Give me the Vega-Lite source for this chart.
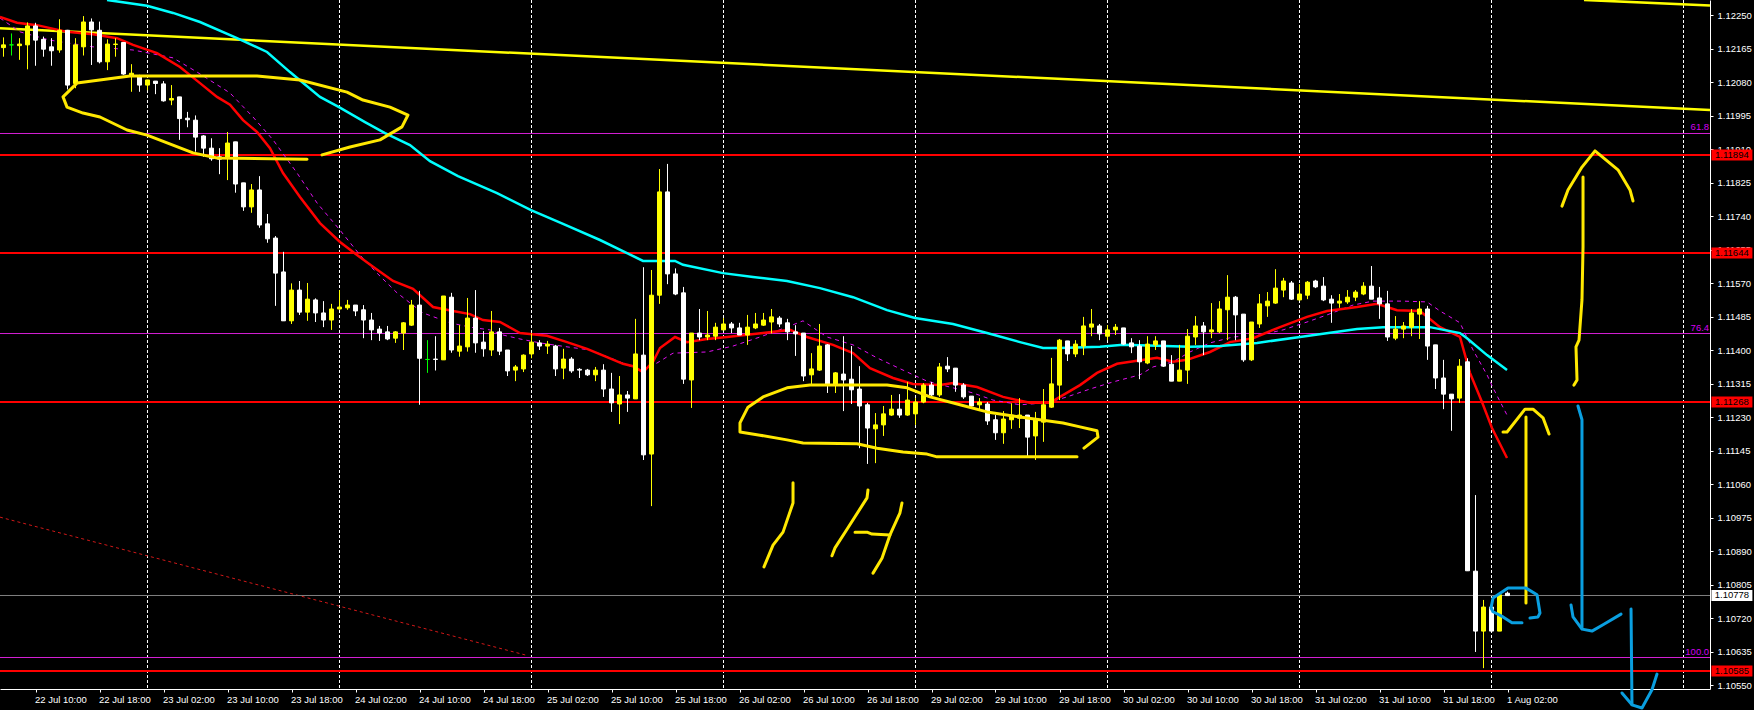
{
"$schema":"https://vega.github.io/schema/vega-lite/v6.json",
"width":1710,"height":689,"padding":{"left":0,"top":0,"right":44,"bottom":21},"autosize":{"type":"none"},"background":"#000000",
"config":{"view":{"stroke":null}},
"datasets":{
"candles":[
{"bar":0,"open":1.12168,"high":1.12194,"low":1.12145,"close":1.12175,"dir":"up"},
{"bar":1,"open":1.12175,"high":1.12204,"low":1.12148,"close":1.12175,"dir":"flat"},
{"bar":2,"open":1.12173,"high":1.12192,"low":1.12137,"close":1.12177,"dir":"up"},
{"bar":3,"open":1.12175,"high":1.12232,"low":1.12113,"close":1.12223,"dir":"up"},
{"bar":4,"open":1.12223,"high":1.12231,"low":1.12122,"close":1.12187,"dir":"down"},
{"bar":5,"open":1.12189,"high":1.12196,"low":1.12145,"close":1.12164,"dir":"down"},
{"bar":6,"open":1.12170,"high":1.12192,"low":1.12122,"close":1.12160,"dir":"down"},
{"bar":7,"open":1.12162,"high":1.12240,"low":1.12155,"close":1.12212,"dir":"up"},
{"bar":8,"open":1.12212,"high":1.12213,"low":1.12062,"close":1.12073,"dir":"down"},
{"bar":9,"open":1.12077,"high":1.12192,"low":1.12065,"close":1.12175,"dir":"up"},
{"bar":10,"open":1.12170,"high":1.12248,"low":1.12148,"close":1.12233,"dir":"up"},
{"bar":11,"open":1.12233,"high":1.12242,"low":1.12124,"close":1.12213,"dir":"down"},
{"bar":12,"open":1.12212,"high":1.12234,"low":1.12128,"close":1.12132,"dir":"down"},
{"bar":13,"open":1.12132,"high":1.12189,"low":1.12111,"close":1.12177,"dir":"up"},
{"bar":14,"open":1.12176,"high":1.12192,"low":1.12145,"close":1.12177,"dir":"up"},
{"bar":15,"open":1.12181,"high":1.12181,"low":1.12099,"close":1.12101,"dir":"down"},
{"bar":16,"open":1.12096,"high":1.12126,"low":1.12056,"close":1.12103,"dir":"up"},
{"bar":17,"open":1.12096,"high":1.12099,"low":1.12056,"close":1.12073,"dir":"down"},
{"bar":18,"open":1.12073,"high":1.12086,"low":1.12060,"close":1.12086,"dir":"up"},
{"bar":19,"open":1.12083,"high":1.12083,"low":1.12050,"close":1.12077,"dir":"down"},
{"bar":20,"open":1.12076,"high":1.12083,"low":1.12031,"close":1.12033,"dir":"down"},
{"bar":21,"open":1.12035,"high":1.12073,"low":1.12022,"close":1.12039,"dir":"up"},
{"bar":22,"open":1.12043,"high":1.12043,"low":1.11934,"close":1.11988,"dir":"down"},
{"bar":23,"open":1.11989,"high":1.12005,"low":1.11966,"close":1.11985,"dir":"down"},
{"bar":24,"open":1.11984,"high":1.11996,"low":1.11904,"close":1.11941,"dir":"down"},
{"bar":25,"open":1.11944,"high":1.11946,"low":1.11891,"close":1.11913,"dir":"down"},
{"bar":26,"open":1.11913,"high":1.11938,"low":1.11881,"close":1.11886,"dir":"down"},
{"bar":27,"open":1.11891,"high":1.11913,"low":1.11847,"close":1.11885,"dir":"down"},
{"bar":28,"open":1.11890,"high":1.11954,"low":1.11832,"close":1.11926,"dir":"up"},
{"bar":29,"open":1.11929,"high":1.11929,"low":1.11800,"close":1.11822,"dir":"down"},
{"bar":30,"open":1.11825,"high":1.11825,"low":1.11754,"close":1.11764,"dir":"down"},
{"bar":31,"open":1.11764,"high":1.11822,"low":1.11749,"close":1.11807,"dir":"up"},
{"bar":32,"open":1.11807,"high":1.11842,"low":1.11711,"close":1.11718,"dir":"down"},
{"bar":33,"open":1.11721,"high":1.11746,"low":1.11673,"close":1.11683,"dir":"down"},
{"bar":34,"open":1.11685,"high":1.11690,"low":1.11513,"close":1.11596,"dir":"down"},
{"bar":35,"open":1.11599,"high":1.11650,"low":1.11475,"close":1.11475,"dir":"down"},
{"bar":36,"open":1.11475,"high":1.11570,"low":1.11467,"close":1.11553,"dir":"up"},
{"bar":37,"open":1.11553,"high":1.11576,"low":1.11490,"close":1.11497,"dir":"down"},
{"bar":38,"open":1.11497,"high":1.11571,"low":1.11475,"close":1.11530,"dir":"up"},
{"bar":39,"open":1.11528,"high":1.11532,"low":1.11472,"close":1.11495,"dir":"down"},
{"bar":40,"open":1.11495,"high":1.11525,"low":1.11459,"close":1.11477,"dir":"down"},
{"bar":41,"open":1.11477,"high":1.11518,"low":1.11452,"close":1.11505,"dir":"up"},
{"bar":42,"open":1.11505,"high":1.11553,"low":1.11503,"close":1.11510,"dir":"up"},
{"bar":43,"open":1.11508,"high":1.11528,"low":1.11503,"close":1.11515,"dir":"up"},
{"bar":44,"open":1.11515,"high":1.11515,"low":1.11487,"close":1.11500,"dir":"down"},
{"bar":45,"open":1.11503,"high":1.11515,"low":1.11431,"close":1.11477,"dir":"down"},
{"bar":46,"open":1.11477,"high":1.11495,"low":1.11426,"close":1.11452,"dir":"down"},
{"bar":47,"open":1.11454,"high":1.11462,"low":1.11424,"close":1.11444,"dir":"down"},
{"bar":48,"open":1.11447,"high":1.11462,"low":1.11426,"close":1.11429,"dir":"down"},
{"bar":49,"open":1.11431,"high":1.11449,"low":1.11419,"close":1.11447,"dir":"up"},
{"bar":50,"open":1.11444,"high":1.11472,"low":1.11401,"close":1.11470,"dir":"up"},
{"bar":51,"open":1.11464,"high":1.11528,"low":1.11462,"close":1.11515,"dir":"up"},
{"bar":52,"open":1.11515,"high":1.11551,"low":1.11262,"close":1.11380,"dir":"down"},
{"bar":53,"open":1.11377,"high":1.11426,"low":1.11343,"close":1.11377,"dir":"flat"},
{"bar":54,"open":1.11378,"high":1.11436,"low":1.11349,"close":1.11377,"dir":"down"},
{"bar":55,"open":1.11376,"high":1.11538,"low":1.11376,"close":1.11538,"dir":"up"},
{"bar":56,"open":1.11535,"high":1.11546,"low":1.11394,"close":1.11401,"dir":"down"},
{"bar":57,"open":1.11398,"high":1.11464,"low":1.11384,"close":1.11411,"dir":"up"},
{"bar":58,"open":1.11409,"high":1.11533,"low":1.11397,"close":1.11482,"dir":"up"},
{"bar":59,"open":1.11482,"high":1.11553,"low":1.11394,"close":1.11419,"dir":"down"},
{"bar":60,"open":1.11421,"high":1.11449,"low":1.11384,"close":1.11404,"dir":"down"},
{"bar":61,"open":1.11401,"high":1.11500,"low":1.11386,"close":1.11447,"dir":"up"},
{"bar":62,"open":1.11447,"high":1.11457,"low":1.11388,"close":1.11398,"dir":"down"},
{"bar":63,"open":1.11401,"high":1.11401,"low":1.11335,"close":1.11348,"dir":"down"},
{"bar":64,"open":1.11350,"high":1.11363,"low":1.11322,"close":1.11358,"dir":"up"},
{"bar":65,"open":1.11353,"high":1.11390,"low":1.11345,"close":1.11388,"dir":"up"},
{"bar":66,"open":1.11391,"high":1.11443,"low":1.11380,"close":1.11421,"dir":"up"},
{"bar":67,"open":1.11419,"high":1.11426,"low":1.11401,"close":1.11411,"dir":"down"},
{"bar":68,"open":1.11411,"high":1.11424,"low":1.11391,"close":1.11416,"dir":"up"},
{"bar":69,"open":1.11411,"high":1.11414,"low":1.11335,"close":1.11353,"dir":"down"},
{"bar":70,"open":1.11355,"high":1.11404,"low":1.11327,"close":1.11378,"dir":"up"},
{"bar":71,"open":1.11378,"high":1.11383,"low":1.11343,"close":1.11348,"dir":"down"},
{"bar":72,"open":1.11352,"high":1.11355,"low":1.11330,"close":1.11350,"dir":"down"},
{"bar":73,"open":1.11350,"high":1.11353,"low":1.11335,"close":1.11338,"dir":"down"},
{"bar":74,"open":1.11338,"high":1.11358,"low":1.11322,"close":1.11350,"dir":"up"},
{"bar":75,"open":1.11350,"high":1.11365,"low":1.11282,"close":1.11302,"dir":"down"},
{"bar":76,"open":1.11302,"high":1.11343,"low":1.11244,"close":1.11267,"dir":"down"},
{"bar":77,"open":1.11264,"high":1.11335,"low":1.11213,"close":1.11287,"dir":"up"},
{"bar":78,"open":1.11287,"high":1.11297,"low":1.11244,"close":1.11279,"dir":"down"},
{"bar":79,"open":1.11277,"high":1.11480,"low":1.11277,"close":1.11391,"dir":"up"},
{"bar":80,"open":1.11388,"high":1.11611,"low":1.11122,"close":1.11135,"dir":"down"},
{"bar":81,"open":1.11137,"high":1.11604,"low":1.11005,"close":1.11540,"dir":"up"},
{"bar":82,"open":1.11540,"high":1.11860,"low":1.11518,"close":1.11802,"dir":"up"},
{"bar":83,"open":1.11802,"high":1.11873,"low":1.11568,"close":1.11594,"dir":"down"},
{"bar":84,"open":1.11594,"high":1.11608,"low":1.11540,"close":1.11543,"dir":"down"},
{"bar":85,"open":1.11546,"high":1.11561,"low":1.11315,"close":1.11327,"dir":"down"},
{"bar":86,"open":1.11325,"high":1.11444,"low":1.11254,"close":1.11444,"dir":"up"},
{"bar":87,"open":1.11444,"high":1.11505,"low":1.11426,"close":1.11434,"dir":"down"},
{"bar":88,"open":1.11434,"high":1.11500,"low":1.11426,"close":1.11439,"dir":"up"},
{"bar":89,"open":1.11436,"high":1.11470,"low":1.11426,"close":1.11459,"dir":"up"},
{"bar":90,"open":1.11452,"high":1.11482,"low":1.11452,"close":1.11467,"dir":"up"},
{"bar":91,"open":1.11467,"high":1.11472,"low":1.11444,"close":1.11457,"dir":"down"},
{"bar":92,"open":1.11457,"high":1.11470,"low":1.11439,"close":1.11439,"dir":"down"},
{"bar":93,"open":1.11439,"high":1.11490,"low":1.11414,"close":1.11459,"dir":"up"},
{"bar":94,"open":1.11457,"high":1.11495,"low":1.11454,"close":1.11467,"dir":"up"},
{"bar":95,"open":1.11464,"high":1.11495,"low":1.11462,"close":1.11477,"dir":"up"},
{"bar":96,"open":1.11472,"high":1.11505,"low":1.11443,"close":1.11485,"dir":"up"},
{"bar":97,"open":1.11482,"high":1.11487,"low":1.11459,"close":1.11467,"dir":"down"},
{"bar":98,"open":1.11470,"high":1.11480,"low":1.11426,"close":1.11447,"dir":"down"},
{"bar":99,"open":1.11447,"high":1.11464,"low":1.11386,"close":1.11442,"dir":"down"},
{"bar":100,"open":1.11444,"high":1.11444,"low":1.11322,"close":1.11335,"dir":"down"},
{"bar":101,"open":1.11338,"high":1.11393,"low":1.11312,"close":1.11353,"dir":"up"},
{"bar":102,"open":1.11350,"high":1.11467,"low":1.11348,"close":1.11411,"dir":"up"},
{"bar":103,"open":1.11414,"high":1.11416,"low":1.11292,"close":1.11312,"dir":"down"},
{"bar":104,"open":1.11312,"high":1.11345,"low":1.11292,"close":1.11343,"dir":"up"},
{"bar":105,"open":1.11340,"high":1.11436,"low":1.11246,"close":1.11325,"dir":"down"},
{"bar":106,"open":1.11327,"high":1.11411,"low":1.11264,"close":1.11300,"dir":"down"},
{"bar":107,"open":1.11302,"high":1.11360,"low":1.11152,"close":1.11259,"dir":"down"},
{"bar":108,"open":1.11262,"high":1.11267,"low":1.11112,"close":1.11203,"dir":"down"},
{"bar":109,"open":1.11201,"high":1.11241,"low":1.11114,"close":1.11211,"dir":"up"},
{"bar":110,"open":1.11211,"high":1.11259,"low":1.11183,"close":1.11239,"dir":"up"},
{"bar":111,"open":1.11236,"high":1.11287,"low":1.11234,"close":1.11251,"dir":"up"},
{"bar":112,"open":1.11251,"high":1.11289,"low":1.11229,"close":1.11236,"dir":"down"},
{"bar":113,"open":1.11236,"high":1.11320,"low":1.11234,"close":1.11274,"dir":"up"},
{"bar":114,"open":1.11239,"high":1.11279,"low":1.11211,"close":1.11269,"dir":"up"},
{"bar":115,"open":1.11269,"high":1.11317,"low":1.11266,"close":1.11312,"dir":"up"},
{"bar":116,"open":1.11312,"high":1.11320,"low":1.11284,"close":1.11287,"dir":"down"},
{"bar":117,"open":1.11287,"high":1.11368,"low":1.11282,"close":1.11358,"dir":"up"},
{"bar":118,"open":1.11360,"high":1.11383,"low":1.11345,"close":1.11353,"dir":"down"},
{"bar":119,"open":1.11355,"high":1.11355,"low":1.11295,"close":1.11312,"dir":"down"},
{"bar":120,"open":1.11312,"high":1.11317,"low":1.11277,"close":1.11282,"dir":"down"},
{"bar":121,"open":1.11284,"high":1.11284,"low":1.11257,"close":1.11259,"dir":"down"},
{"bar":122,"open":1.11262,"high":1.11279,"low":1.11249,"close":1.11269,"dir":"up"},
{"bar":123,"open":1.11264,"high":1.11269,"low":1.11211,"close":1.11221,"dir":"down"},
{"bar":124,"open":1.11224,"high":1.11236,"low":1.11173,"close":1.11191,"dir":"down"},
{"bar":125,"open":1.11191,"high":1.11246,"low":1.11163,"close":1.11226,"dir":"up"},
{"bar":126,"open":1.11224,"high":1.11266,"low":1.11201,"close":1.11236,"dir":"up"},
{"bar":127,"open":1.11228,"high":1.11279,"low":1.11203,"close":1.11236,"dir":"up"},
{"bar":128,"open":1.11236,"high":1.11236,"low":1.11130,"close":1.11180,"dir":"down"},
{"bar":129,"open":1.11183,"high":1.11244,"low":1.11122,"close":1.11224,"dir":"up"},
{"bar":130,"open":1.11218,"high":1.11302,"low":1.11168,"close":1.11262,"dir":"up"},
{"bar":131,"open":1.11256,"high":1.11381,"low":1.11254,"close":1.11315,"dir":"up"},
{"bar":132,"open":1.11312,"high":1.11429,"low":1.11274,"close":1.11426,"dir":"up"},
{"bar":133,"open":1.11424,"high":1.11424,"low":1.11373,"close":1.11391,"dir":"down"},
{"bar":134,"open":1.11391,"high":1.11426,"low":1.11383,"close":1.11416,"dir":"up"},
{"bar":135,"open":1.11411,"high":1.11485,"low":1.11388,"close":1.11462,"dir":"up"},
{"bar":136,"open":1.11459,"high":1.11505,"low":1.11436,"close":1.11467,"dir":"up"},
{"bar":137,"open":1.11462,"high":1.11467,"low":1.11426,"close":1.11442,"dir":"down"},
{"bar":138,"open":1.11436,"high":1.11464,"low":1.11426,"close":1.11452,"dir":"up"},
{"bar":139,"open":1.11452,"high":1.11467,"low":1.11439,"close":1.11459,"dir":"up"},
{"bar":140,"open":1.11457,"high":1.11457,"low":1.11414,"close":1.11416,"dir":"down"},
{"bar":141,"open":1.11419,"high":1.11431,"low":1.11393,"close":1.11409,"dir":"down"},
{"bar":142,"open":1.11411,"high":1.11426,"low":1.11327,"close":1.11371,"dir":"down"},
{"bar":143,"open":1.11368,"high":1.11436,"low":1.11365,"close":1.11416,"dir":"up"},
{"bar":144,"open":1.11414,"high":1.11436,"low":1.11401,"close":1.11424,"dir":"up"},
{"bar":145,"open":1.11424,"high":1.11424,"low":1.11358,"close":1.11360,"dir":"down"},
{"bar":146,"open":1.11365,"high":1.11388,"low":1.11322,"close":1.11322,"dir":"down"},
{"bar":147,"open":1.11322,"high":1.11414,"low":1.11322,"close":1.11350,"dir":"up"},
{"bar":148,"open":1.11350,"high":1.11454,"low":1.11315,"close":1.11436,"dir":"up"},
{"bar":149,"open":1.11434,"high":1.11487,"low":1.11414,"close":1.11462,"dir":"up"},
{"bar":150,"open":1.11462,"high":1.11472,"low":1.11388,"close":1.11447,"dir":"down"},
{"bar":151,"open":1.11447,"high":1.11520,"low":1.11431,"close":1.11452,"dir":"up"},
{"bar":152,"open":1.11447,"high":1.11525,"low":1.11444,"close":1.11505,"dir":"up"},
{"bar":153,"open":1.11503,"high":1.11591,"low":1.11426,"close":1.11535,"dir":"up"},
{"bar":154,"open":1.11535,"high":1.11538,"low":1.11426,"close":1.11490,"dir":"down"},
{"bar":155,"open":1.11492,"high":1.11492,"low":1.11371,"close":1.11376,"dir":"down"},
{"bar":156,"open":1.11376,"high":1.11472,"low":1.11373,"close":1.11472,"dir":"up"},
{"bar":157,"open":1.11467,"high":1.11543,"low":1.11457,"close":1.11518,"dir":"up"},
{"bar":158,"open":1.11513,"high":1.11548,"low":1.11485,"close":1.11525,"dir":"up"},
{"bar":159,"open":1.11520,"high":1.11606,"low":1.11518,"close":1.11558,"dir":"up"},
{"bar":160,"open":1.11553,"high":1.11584,"low":1.11535,"close":1.11576,"dir":"up"},
{"bar":161,"open":1.11571,"high":1.11576,"low":1.11528,"close":1.11530,"dir":"down"},
{"bar":162,"open":1.11528,"high":1.11568,"low":1.11528,"close":1.11543,"dir":"up"},
{"bar":163,"open":1.11540,"high":1.11576,"low":1.11530,"close":1.11573,"dir":"up"},
{"bar":164,"open":1.11576,"high":1.11579,"low":1.11558,"close":1.11561,"dir":"down"},
{"bar":165,"open":1.11563,"high":1.11586,"low":1.11525,"close":1.11528,"dir":"down"},
{"bar":166,"open":1.11530,"high":1.11540,"low":1.11470,"close":1.11520,"dir":"down"},
{"bar":167,"open":1.11520,"high":1.11543,"low":1.11508,"close":1.11525,"dir":"up"},
{"bar":168,"open":1.11523,"high":1.11553,"low":1.11518,"close":1.11535,"dir":"up"},
{"bar":169,"open":1.11535,"high":1.11553,"low":1.11525,"close":1.11548,"dir":"up"},
{"bar":170,"open":1.11543,"high":1.11573,"low":1.11540,"close":1.11563,"dir":"up"},
{"bar":171,"open":1.11563,"high":1.11614,"low":1.11530,"close":1.11530,"dir":"down"},
{"bar":172,"open":1.11533,"high":1.11561,"low":1.11480,"close":1.11518,"dir":"down"},
{"bar":173,"open":1.11518,"high":1.11551,"low":1.11424,"close":1.11434,"dir":"down"},
{"bar":174,"open":1.11431,"high":1.11487,"low":1.11426,"close":1.11454,"dir":"up"},
{"bar":175,"open":1.11454,"high":1.11472,"low":1.11431,"close":1.11462,"dir":"up"},
{"bar":176,"open":1.11459,"high":1.11505,"low":1.11436,"close":1.11495,"dir":"up"},
{"bar":177,"open":1.11492,"high":1.11525,"low":1.11429,"close":1.11505,"dir":"up"},
{"bar":178,"open":1.11505,"high":1.11513,"low":1.11376,"close":1.11411,"dir":"down"},
{"bar":179,"open":1.11414,"high":1.11414,"low":1.11302,"close":1.11330,"dir":"down"},
{"bar":180,"open":1.11330,"high":1.11376,"low":1.11251,"close":1.11289,"dir":"down"},
{"bar":181,"open":1.11289,"high":1.11289,"low":1.11196,"close":1.11277,"dir":"down"},
{"bar":182,"open":1.11279,"high":1.11378,"low":1.11267,"close":1.11360,"dir":"up"},
{"bar":183,"open":1.11371,"high":1.11380,"low":1.10841,"close":1.10841,"dir":"down"},
{"bar":184,"open":1.10840,"high":1.11033,"low":1.10635,"close":1.10688,"dir":"down"},
{"bar":185,"open":1.10688,"high":1.10767,"low":1.10594,"close":1.10749,"dir":"up"},
{"bar":186,"open":1.10749,"high":1.10754,"low":1.10688,"close":1.10688,"dir":"down"},
{"bar":187,"open":1.10688,"high":1.10780,"low":1.10688,"close":1.10780,"dir":"up"},
{"bar":188,"open":1.10784,"high":1.10788,"low":1.10778,"close":1.10778,"dir":"down"}
],
"grid":[{"bar":18},{"bar":42},{"bar":66},{"bar":90},{"bar":114},{"bar":138},{"bar":162},{"bar":186},{"bar":210}],
"levels":[
{"price":1.119502,"kind":"fibo"},{"price":1.114428,"kind":"fibo"},{"price":1.10621,"kind":"fibo"},
{"price":1.107783,"kind":"current"}
],
"keyLevels":[{"price":1.118956},{"price":1.11647},{"price":1.112691},{"price":1.105868}],
"tags":[
{"bar":216.05,"price":1.118956,"kind":"key","label":"1.11894"},{"bar":216.05,"price":1.11647,"kind":"key","label":"1.11644"},{"bar":216.05,"price":1.112691,"kind":"key","label":"1.11268"},{"bar":216.05,"price":1.105868,"kind":"key","label":"1.10585"},{"bar":216.05,"price":1.107783,"kind":"current","label":"1.10778"}
],
"fibo":[{"bar":213.2,"price":1.119502,"label":"61.8"},{"bar":213.2,"price":1.114428,"label":"76.4"},{"bar":213.2,"price":1.10621,"label":"100.0"}],
"trend":[
{"line":"channel low","bar":-0.44,"price":1.12217},{"line":"channel low","bar":213.31,"price":1.12010},
{"line":"channel high","bar":197.56,"price":1.12289},{"line":"channel high","bar":213.31,"price":1.12275}
],
"diagonal":[{"bar":-0.44,"price":1.10977},{"bar":65.3,"price":1.10627}],
"cyan":[
{"bar":12.94,"price":1.12289},{"bar":17.94,"price":1.12274},{"bar":21.19,"price":1.12256},{"bar":24.56,"price":1.12233},{"bar":29.19,"price":1.12192},{"bar":32.94,"price":1.12157},{"bar":35.81,"price":1.12106},{"bar":39.56,"price":1.12043},{"bar":41.94,"price":1.12017},{"bar":45.19,"price":1.11979},{"bar":47.69,"price":1.11951},{"bar":50.81,"price":1.11921},{"bar":53.31,"price":1.11880},{"bar":56.81,"price":1.11842},{"bar":61.69,"price":1.11799},{"bar":65.94,"price":1.11756},{"bar":69.94,"price":1.11721},{"bar":74.56,"price":1.11680},{"bar":77.94,"price":1.11647},{"bar":79.94,"price":1.11627},{"bar":83.94,"price":1.11627},{"bar":84.94,"price":1.11617},{"bar":89.94,"price":1.11596},{"bar":93.69,"price":1.11586},{"bar":97.94,"price":1.11576},{"bar":102.06,"price":1.11558},{"bar":106.19,"price":1.11535},{"bar":110.44,"price":1.11502},{"bar":113.94,"price":1.11482},{"bar":118.69,"price":1.11467},{"bar":122.94,"price":1.11444},{"bar":127.06,"price":1.11421},{"bar":129.94,"price":1.11406},{"bar":132.06,"price":1.11406},{"bar":137.06,"price":1.11409},{"bar":139.94,"price":1.11414},{"bar":148.31,"price":1.11409},{"bar":152.06,"price":1.11411},{"bar":156.69,"price":1.11419},{"bar":162.06,"price":1.11434},{"bar":164.94,"price":1.11442},{"bar":169.19,"price":1.11454},{"bar":172.44,"price":1.11459},{"bar":178.31,"price":1.11459},{"bar":182.06,"price":1.11444},{"bar":182.94,"price":1.11431},{"bar":185.44,"price":1.11388},{"bar":187.94,"price":1.11350}
],
"red":[
{"bar":-0.44,"price":1.12246},{"bar":1.69,"price":1.12231},{"bar":4.19,"price":1.12225},{"bar":7.94,"price":1.12208},{"bar":11.19,"price":1.12202},{"bar":14.19,"price":1.12192},{"bar":16.19,"price":1.12175},{"bar":19.19,"price":1.12154},{"bar":22.06,"price":1.12119},{"bar":24.56,"price":1.12078},{"bar":26.69,"price":1.12043},{"bar":28.31,"price":1.12023},{"bar":29.94,"price":1.11984},{"bar":31.69,"price":1.11954},{"bar":33.31,"price":1.11913},{"bar":34.94,"price":1.11850},{"bar":37.06,"price":1.11789},{"bar":39.56,"price":1.11723},{"bar":42.06,"price":1.11675},{"bar":44.19,"price":1.11642},{"bar":46.19,"price":1.11612},{"bar":48.69,"price":1.11576},{"bar":51.19,"price":1.11556},{"bar":53.69,"price":1.11510},{"bar":56.19,"price":1.11500},{"bar":58.31,"price":1.11492},{"bar":59.94,"price":1.11477},{"bar":62.06,"price":1.11472},{"bar":64.56,"price":1.11444},{"bar":67.94,"price":1.11437},{"bar":70.44,"price":1.11421},{"bar":72.94,"price":1.11404},{"bar":75.44,"price":1.11383},{"bar":77.44,"price":1.11366},{"bar":78.69,"price":1.11360},{"bar":79.94,"price":1.11345},{"bar":81.19,"price":1.11371},{"bar":82.06,"price":1.11406},{"bar":83.94,"price":1.11434},{"bar":85.44,"price":1.11421},{"bar":87.94,"price":1.11429},{"bar":90.44,"price":1.11434},{"bar":94.94,"price":1.11444},{"bar":98.31,"price":1.11452},{"bar":100.44,"price":1.11434},{"bar":103.69,"price":1.11414},{"bar":106.19,"price":1.11393},{"bar":108.31,"price":1.11355},{"bar":111.19,"price":1.11330},{"bar":113.69,"price":1.11315},{"bar":117.06,"price":1.11312},{"bar":118.69,"price":1.11317},{"bar":121.69,"price":1.11307},{"bar":124.94,"price":1.11282},{"bar":128.31,"price":1.11267},{"bar":130.81,"price":1.11267},{"bar":132.06,"price":1.11282},{"bar":134.56,"price":1.11312},{"bar":136.69,"price":1.11343},{"bar":139.19,"price":1.11366},{"bar":144.19,"price":1.11381},{"bar":146.19,"price":1.11371},{"bar":147.94,"price":1.11376},{"bar":150.81,"price":1.11396},{"bar":153.31,"price":1.11421},{"bar":156.19,"price":1.11431},{"bar":159.56,"price":1.11459},{"bar":162.94,"price":1.11485},{"bar":165.44,"price":1.11500},{"bar":169.19,"price":1.11510},{"bar":171.69,"price":1.11518},{"bar":174.19,"price":1.11502},{"bar":177.06,"price":1.11500},{"bar":179.56,"price":1.11459},{"bar":182.06,"price":1.11434},{"bar":183.31,"price":1.11343},{"bar":184.81,"price":1.11269},{"bar":186.06,"price":1.11203},{"bar":187.94,"price":1.11127}
],
"purple":[
{"bar":-0.44,"price":1.12243},{"bar":2.06,"price":1.12208},{"bar":5.81,"price":1.12187},{"bar":11.19,"price":1.12170},{"bar":16.19,"price":1.12162},{"bar":21.19,"price":1.12142},{"bar":24.19,"price":1.12106},{"bar":28.31,"price":1.12053},{"bar":31.19,"price":1.11992},{"bar":33.69,"price":1.11934},{"bar":36.69,"price":1.11850},{"bar":39.19,"price":1.11774},{"bar":42.06,"price":1.11705},{"bar":44.56,"price":1.11642},{"bar":46.69,"price":1.11596},{"bar":49.19,"price":1.11546},{"bar":52.44,"price":1.11495},{"bar":55.81,"price":1.11470},{"bar":58.31,"price":1.11459},{"bar":60.81,"price":1.11452},{"bar":62.44,"price":1.11439},{"bar":64.56,"price":1.11429},{"bar":67.06,"price":1.11419},{"bar":70.44,"price":1.11409},{"bar":73.31,"price":1.11401},{"bar":76.19,"price":1.11378},{"bar":79.56,"price":1.11350},{"bar":81.69,"price":1.11368},{"bar":83.69,"price":1.11393},{"bar":87.94,"price":1.11396},{"bar":91.19,"price":1.11411},{"bar":94.56,"price":1.11434},{"bar":97.94,"price":1.11459},{"bar":99.94,"price":1.11475},{"bar":102.94,"price":1.11434},{"bar":106.19,"price":1.11414},{"bar":109.19,"price":1.11381},{"bar":112.44,"price":1.11350},{"bar":115.44,"price":1.11322},{"bar":118.69,"price":1.11305},{"bar":121.19,"price":1.11292},{"bar":123.69,"price":1.11274},{"bar":127.06,"price":1.11262},{"bar":130.44,"price":1.11267},{"bar":132.94,"price":1.11282},{"bar":135.81,"price":1.11302},{"bar":138.69,"price":1.11320},{"bar":142.06,"price":1.11338},{"bar":143.69,"price":1.11358},{"bar":146.19,"price":1.11371},{"bar":148.31,"price":1.11396},{"bar":150.81,"price":1.11419},{"bar":153.69,"price":1.11434},{"bar":157.06,"price":1.11439},{"bar":159.94,"price":1.11452},{"bar":162.94,"price":1.11472},{"bar":165.44,"price":1.11490},{"bar":168.69,"price":1.11515},{"bar":171.19,"price":1.11525},{"bar":174.94,"price":1.11525},{"bar":177.94,"price":1.11523},{"bar":179.56,"price":1.11500},{"bar":182.06,"price":1.11470},{"bar":183.69,"price":1.11401},{"bar":185.44,"price":1.11338},{"bar":186.19,"price":1.11305},{"bar":187.94,"price":1.11236}
],
"ink":[
{"stroke":"loop1","ink":"yellow","seq":1,"bar":37.94,"price":1.11885},{"stroke":"loop1","ink":"yellow","seq":2,"bar":26.69,"price":1.11888},{"stroke":"loop1","ink":"yellow","seq":3,"bar":23.69,"price":1.11901},{"stroke":"loop1","ink":"yellow","seq":4,"bar":17.94,"price":1.11946},{"stroke":"loop1","ink":"yellow","seq":5,"bar":15.44,"price":1.11959},{"stroke":"loop1","ink":"yellow","seq":6,"bar":12.06,"price":1.11992},{"stroke":"loop1","ink":"yellow","seq":7,"bar":9.94,"price":1.12002},{"stroke":"loop1","ink":"yellow","seq":8,"bar":7.94,"price":1.12017},{"stroke":"loop1","ink":"yellow","seq":9,"bar":7.44,"price":1.12043},{"stroke":"loop1","ink":"yellow","seq":10,"bar":9.19,"price":1.12078},{"stroke":"loop1","ink":"yellow","seq":11,"bar":15.81,"price":1.12096},{"stroke":"loop1","ink":"yellow","seq":12,"bar":31.69,"price":1.12096},{"stroke":"loop1","ink":"yellow","seq":13,"bar":37.06,"price":1.12086},{"stroke":"loop1","ink":"yellow","seq":14,"bar":42.94,"price":1.12055},{"stroke":"loop1","ink":"yellow","seq":15,"bar":44.94,"price":1.12035},{"stroke":"loop1","ink":"yellow","seq":16,"bar":48.31,"price":1.12017},{"stroke":"loop1","ink":"yellow","seq":17,"bar":50.56,"price":1.11997},{"stroke":"loop1","ink":"yellow","seq":18,"bar":49.81,"price":1.11967},{"stroke":"loop1","ink":"yellow","seq":19,"bar":47.06,"price":1.11934},{"stroke":"loop1","ink":"yellow","seq":20,"bar":43.31,"price":1.11916},{"stroke":"loop1","ink":"yellow","seq":21,"bar":39.81,"price":1.11896},
{"stroke":"loop2","ink":"yellow","seq":1,"bar":135.06,"price":1.11152},{"stroke":"loop2","ink":"yellow","seq":2,"bar":136.81,"price":1.11180},{"stroke":"loop2","ink":"yellow","seq":3,"bar":136.69,"price":1.11196},{"stroke":"loop2","ink":"yellow","seq":4,"bar":134.56,"price":1.11206},{"stroke":"loop2","ink":"yellow","seq":5,"bar":132.44,"price":1.11216},{"stroke":"loop2","ink":"yellow","seq":6,"bar":127.06,"price":1.11231},{"stroke":"loop2","ink":"yellow","seq":7,"bar":122.94,"price":1.11244},{"stroke":"loop2","ink":"yellow","seq":8,"bar":119.56,"price":1.11262},{"stroke":"loop2","ink":"yellow","seq":9,"bar":115.81,"price":1.11282},{"stroke":"loop2","ink":"yellow","seq":10,"bar":112.94,"price":1.11305},{"stroke":"loop2","ink":"yellow","seq":11,"bar":110.44,"price":1.11312},{"stroke":"loop2","ink":"yellow","seq":12,"bar":100.81,"price":1.11312},{"stroke":"loop2","ink":"yellow","seq":13,"bar":97.94,"price":1.11305},{"stroke":"loop2","ink":"yellow","seq":14,"bar":94.94,"price":1.11282},{"stroke":"loop2","ink":"yellow","seq":15,"bar":93.06,"price":1.11256},{"stroke":"loop2","ink":"yellow","seq":16,"bar":92.06,"price":1.11216},{"stroke":"loop2","ink":"yellow","seq":17,"bar":92.06,"price":1.11193},{"stroke":"loop2","ink":"yellow","seq":18,"bar":94.56,"price":1.11185},{"stroke":"loop2","ink":"yellow","seq":19,"bar":97.94,"price":1.11173},{"stroke":"loop2","ink":"yellow","seq":20,"bar":99.94,"price":1.11165},{"stroke":"loop2","ink":"yellow","seq":21,"bar":106.69,"price":1.11163},{"stroke":"loop2","ink":"yellow","seq":22,"bar":109.19,"price":1.11152},{"stroke":"loop2","ink":"yellow","seq":23,"bar":112.44,"price":1.11142},{"stroke":"loop2","ink":"yellow","seq":24,"bar":115.44,"price":1.11137},{"stroke":"loop2","ink":"yellow","seq":25,"bar":116.69,"price":1.11130},{"stroke":"loop2","ink":"yellow","seq":26,"bar":134.19,"price":1.11130},
{"stroke":"one","ink":"yellow","seq":1,"bar":98.69,"price":1.11064},{"stroke":"one","ink":"yellow","seq":2,"bar":98.69,"price":1.11013},{"stroke":"one","ink":"yellow","seq":3,"bar":97.44,"price":1.10939},{"stroke":"one","ink":"yellow","seq":4,"bar":96.19,"price":1.10906},{"stroke":"one","ink":"yellow","seq":5,"bar":95.06,"price":1.10851},
{"stroke":"hleft","ink":"yellow","seq":1,"bar":108.06,"price":1.11046},{"stroke":"hleft","ink":"yellow","seq":2,"bar":107.94,"price":1.11026},{"stroke":"hleft","ink":"yellow","seq":3,"bar":105.56,"price":1.10950},{"stroke":"hleft","ink":"yellow","seq":4,"bar":103.94,"price":1.10899},{"stroke":"hleft","ink":"yellow","seq":5,"bar":103.56,"price":1.10879},
{"stroke":"hright","ink":"yellow","seq":1,"bar":112.31,"price":1.11013},{"stroke":"hright","ink":"yellow","seq":2,"bar":112.06,"price":1.10988},{"stroke":"hright","ink":"yellow","seq":3,"bar":110.81,"price":1.10932},{"stroke":"hright","ink":"yellow","seq":4,"bar":109.81,"price":1.10873},{"stroke":"hright","ink":"yellow","seq":5,"bar":108.69,"price":1.10835},
{"stroke":"hbar","ink":"yellow","seq":1,"bar":106.44,"price":1.10939},{"stroke":"hbar","ink":"yellow","seq":2,"bar":107.94,"price":1.10939},{"stroke":"hbar","ink":"yellow","seq":3,"bar":108.56,"price":1.10934},{"stroke":"hbar","ink":"yellow","seq":4,"bar":110.81,"price":1.10932},
{"stroke":"upstem","ink":"yellow","seq":1,"bar":197.44,"price":1.11840},{"stroke":"upstem","ink":"yellow","seq":2,"bar":197.44,"price":1.11662},{"stroke":"upstem","ink":"yellow","seq":3,"bar":197.31,"price":1.11528},{"stroke":"upstem","ink":"yellow","seq":4,"bar":196.94,"price":1.11426},{"stroke":"upstem","ink":"yellow","seq":5,"bar":196.56,"price":1.11409},{"stroke":"upstem","ink":"yellow","seq":6,"bar":196.69,"price":1.11325},{"stroke":"upstem","ink":"yellow","seq":7,"bar":196.31,"price":1.11312},
{"stroke":"uphead","ink":"yellow","seq":1,"bar":194.81,"price":1.11766},{"stroke":"uphead","ink":"yellow","seq":2,"bar":195.56,"price":1.11807},{"stroke":"uphead","ink":"yellow","seq":3,"bar":197.31,"price":1.11865},{"stroke":"uphead","ink":"yellow","seq":4,"bar":198.94,"price":1.11906},{"stroke":"uphead","ink":"yellow","seq":5,"bar":201.81,"price":1.11858},{"stroke":"uphead","ink":"yellow","seq":6,"bar":203.31,"price":1.11807},{"stroke":"uphead","ink":"yellow","seq":7,"bar":203.69,"price":1.11779},
{"stroke":"smallstem","ink":"yellow","seq":1,"bar":190.31,"price":1.11231},{"stroke":"smallstem","ink":"yellow","seq":2,"bar":190.31,"price":1.10759},
{"stroke":"smallhead","ink":"yellow","seq":1,"bar":187.44,"price":1.11193},{"stroke":"smallhead","ink":"yellow","seq":2,"bar":187.94,"price":1.11193},{"stroke":"smallhead","ink":"yellow","seq":3,"bar":190.19,"price":1.11251},{"stroke":"smallhead","ink":"yellow","seq":4,"bar":191.19,"price":1.11251},{"stroke":"smallhead","ink":"yellow","seq":5,"bar":192.44,"price":1.11229},{"stroke":"smallhead","ink":"yellow","seq":6,"bar":193.19,"price":1.11188},
{"stroke":"circle","ink":"blue","seq":1,"bar":189.81,"price":1.10709},{"stroke":"circle","ink":"blue","seq":2,"bar":188.56,"price":1.10709},{"stroke":"circle","ink":"blue","seq":3,"bar":187.44,"price":1.10724},{"stroke":"circle","ink":"blue","seq":4,"bar":186.19,"price":1.10737},{"stroke":"circle","ink":"blue","seq":5,"bar":185.94,"price":1.10747},{"stroke":"circle","ink":"blue","seq":6,"bar":186.19,"price":1.10772},{"stroke":"circle","ink":"blue","seq":7,"bar":188.06,"price":1.10797},{"stroke":"circle","ink":"blue","seq":8,"bar":190.31,"price":1.10797},{"stroke":"circle","ink":"blue","seq":9,"bar":191.69,"price":1.10780},{"stroke":"circle","ink":"blue","seq":10,"bar":192.06,"price":1.10734},{"stroke":"circle","ink":"blue","seq":11,"bar":191.81,"price":1.10724},{"stroke":"circle","ink":"blue","seq":12,"bar":190.81,"price":1.10721},
{"stroke":"downstem","ink":"blue","seq":1,"bar":196.81,"price":1.11259},{"stroke":"downstem","ink":"blue","seq":2,"bar":197.31,"price":1.11224},{"stroke":"downstem","ink":"blue","seq":3,"bar":197.31,"price":1.10696},
{"stroke":"downhead","ink":"blue","seq":1,"bar":195.94,"price":1.10754},{"stroke":"downhead","ink":"blue","seq":2,"bar":196.19,"price":1.10724},{"stroke":"downhead","ink":"blue","seq":3,"bar":197.31,"price":1.10693},{"stroke":"downhead","ink":"blue","seq":4,"bar":198.56,"price":1.10688},{"stroke":"downhead","ink":"blue","seq":5,"bar":199.94,"price":1.10704},{"stroke":"downhead","ink":"blue","seq":6,"bar":202.19,"price":1.10731},
{"stroke":"down2stem","ink":"blue","seq":1,"bar":203.44,"price":1.10744},{"stroke":"down2stem","ink":"blue","seq":2,"bar":203.56,"price":1.10501},
{"stroke":"down2head","ink":"blue","seq":1,"bar":202.31,"price":1.10531},{"stroke":"down2head","ink":"blue","seq":2,"bar":203.56,"price":1.10501},{"stroke":"down2head","ink":"blue","seq":3,"bar":204.81,"price":1.10493},{"stroke":"down2head","ink":"blue","seq":4,"bar":206.06,"price":1.10539},{"stroke":"down2head","ink":"blue","seq":5,"bar":206.69,"price":1.10579}
]
},
"encoding":{
"x":{"field":"bar","type":"quantitative","scale":{"domain":[-0.4375,213.3125],"nice":false,"zero":false,"padding":0},"axis":{"title":null,"orient":"bottom","values":[-4,4,12,20,28,36,44,52,60,68,76,84,92,100,108,116,124,132,140,148,156,164,172,180,188],"labelExpr":"['22 Jul 02:00','22 Jul 10:00','22 Jul 18:00','23 Jul 02:00','23 Jul 10:00','23 Jul 18:00','24 Jul 02:00','24 Jul 10:00','24 Jul 18:00','25 Jul 02:00','25 Jul 10:00','25 Jul 18:00','26 Jul 02:00','26 Jul 10:00','26 Jul 18:00','29 Jul 02:00','29 Jul 10:00','29 Jul 18:00','30 Jul 02:00','30 Jul 10:00','30 Jul 18:00','31 Jul 02:00','31 Jul 10:00','31 Jul 18:00','1 Aug 02:00'][(datum.value+4)/8]","grid":false,"domainColor":"#ffffff","tickColor":"#ffffff","tickSize":3,"labelColor":"#ffffff","labelFont":"Liberation Sans","labelFontSize":9.5,"labelAlign":"left","labelBaseline":"top","labelPadding":2,"labelOffset":-1,"labelOverlap":false,"labelBound":false,"labelFlush":false}},
"y":{"field":"price","type":"quantitative","scale":{"domain":[1.105411,1.122888],"nice":false,"zero":false,"padding":0},"axis":{"title":null,"orient":"right","values":[1.1225,1.12165,1.1208,1.11995,1.1191,1.11825,1.1174,1.11655,1.1157,1.11485,1.114,1.11315,1.1123,1.11145,1.1106,1.10975,1.1089,1.10805,1.1072,1.10635,1.1055],"format":".5f","grid":false,"domainColor":"#ffffff","tickColor":"#ffffff","tickSize":3,"labelColor":"#ffffff","labelFont":"Liberation Sans","labelFontSize":9.5,"labelPadding":4,"labelOverlap":false,"labelBound":false,"labelFlush":false}}
},
"resolve":{"scale":{"color":"independent","fill":"independent","stroke":"independent"}},
"layer":[
{"data":{"name":"grid"},"mark":{"type":"rule","color":"#ffffff","strokeWidth":1,"strokeDash":[3,2]},"encoding":{"y":null}},
{"data":{"name":"diagonal"},"mark":{"type":"line","color":"#d01818","strokeWidth":1,"strokeDash":[3,3]},"encoding":{}},
{"data":{"name":"levels"},"mark":{"type":"rule","strokeWidth":1},"encoding":{"x":null,
 "color":{"field":"kind","type":"nominal","scale":{"domain":["fibo","current"],"range":["#d41fd4","#808080"]},"legend":null}}},
{"data":{"name":"keyLevels"},"mark":{"type":"rule","color":"#ff0000","strokeWidth":2},"encoding":{"x":null}},
{"data":{"name":"trend"},"mark":{"type":"line","color":"#ffff00","strokeWidth":2.5},"encoding":{"detail":{"field":"line"}}},
{"data":{"name":"purple"},"mark":{"type":"line","color":"#e010f0","strokeWidth":1,"strokeDash":[4,4]},"encoding":{}},
{"data":{"name":"red"},"mark":{"type":"line","color":"#ff0000","strokeWidth":2.5},"encoding":{}},
{"data":{"name":"cyan"},"mark":{"type":"line","color":"#00ffff","strokeWidth":2.5},"encoding":{}},
{"data":{"name":"candles"},"mark":{"type":"rule","strokeWidth":1},"encoding":{
 "y":{"field":"high","type":"quantitative"},
 "y2":{"field":"low"},
 "color":{"field":"dir","type":"nominal","scale":{"domain":["up","down","flat"],"range":["#ffff00","#ffffff","#00ff00"]},"legend":null}}},
{"data":{"name":"candles"},"mark":{"type":"bar","size":4,"strokeWidth":1,"orient":"vertical"},"encoding":{
 "y":{"field":"open","type":"quantitative"},
 "y2":{"field":"close"},
 "fill":{"field":"dir","type":"nominal","scale":{"domain":["up","down","flat"],"range":["#ffff00","#ffffff","#00ff00"]},"legend":null},
 "stroke":{"field":"dir","type":"nominal","scale":{"domain":["up","down","flat"],"range":["#ffff00","#ffffff","#00ff00"]},"legend":null}}},
{"data":{"name":"tags"},"mark":{"type":"rect","width":41,"height":11},"encoding":{
 "color":{"field":"kind","type":"nominal","scale":{"domain":["current","key"],"range":["#ffffff","#ff0000"]},"legend":null}}},
{"data":{"name":"tags"},"mark":{"type":"text","color":"#000000","font":"Liberation Sans","fontSize":9.5,"align":"center","baseline":"middle"},"encoding":{
 "text":{"field":"label"}}},
{"data":{"name":"fibo"},"mark":{"type":"text","color":"#d400f0","font":"Liberation Sans","fontSize":9.5,"align":"right","baseline":"middle","dy":-6},"encoding":{
 "text":{"field":"label"}}},
{"data":{"name":"ink"},"mark":{"type":"line","strokeWidth":3,"strokeCap":"round","strokeJoin":"round"},"encoding":{
 "detail":{"field":"stroke"},"order":{"field":"seq"},
 "color":{"field":"ink","type":"nominal","scale":{"domain":["yellow","blue"],"range":["#ffe800","#0a9fe0"]},"legend":null}}}
]
}
